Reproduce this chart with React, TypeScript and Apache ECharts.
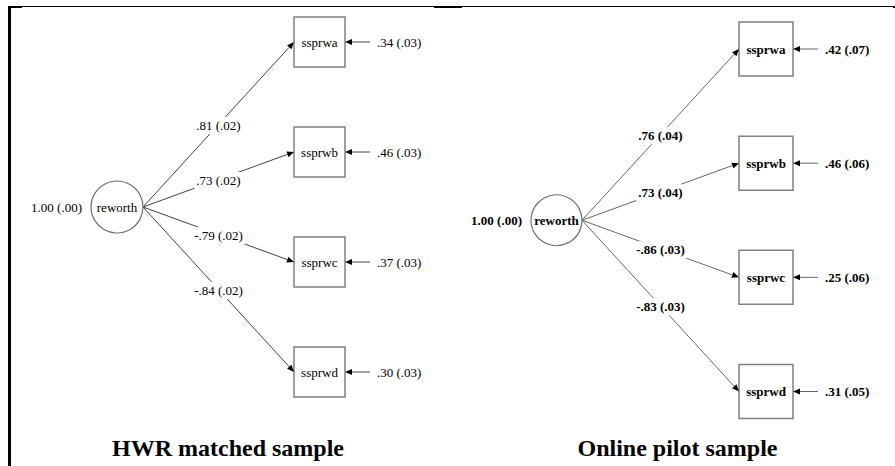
import React, { useEffect, useRef } from 'react';
import * as echarts from 'echarts';

// ---------- data ----------
const indicators = ['ssprwa', 'ssprwb', 'ssprwc', 'ssprwd'];
const latentName = 'reworth';
const panelTitles = ['HWR matched sample', 'Online pilot sample'];
const latentVariance = [1.0, 1.0];
const latentVarianceSE = [0.0, 0.0];
const hwrLoadings = [0.81, 0.73, -0.79, -0.84];
const hwrLoadingSE = [0.02, 0.02, 0.02, 0.02];
const hwrResiduals = [0.34, 0.46, 0.37, 0.3];
const hwrResidualSE = [0.03, 0.03, 0.03, 0.03];
const pilotLoadings = [0.76, 0.73, -0.86, -0.83];
const pilotLoadingSE = [0.04, 0.04, 0.03, 0.03];
const pilotResiduals = [0.42, 0.46, 0.25, 0.31];
const pilotResidualSE = [0.07, 0.06, 0.06, 0.05];

const fmt = (v: number) => {
  const s = Math.abs(v).toFixed(2);
  const t = s.startsWith('0') ? s.slice(1) : s;
  return (v < 0 ? '-' : '') + t;
};
const est = (v: number, se: number) => `${fmt(v)} (${fmt(se)})`;

const FONT = '"Liberation Serif", "Times New Roman", serif';

type Panel = {
  grid: any;
  r: number;
  boxW: number;
  boxH: number;
  fontWeight: string;
  lineColor: string;
  loadings: number[];
  loadingSE: number[];
  residuals: number[];
  residualSE: number[];
  variance: number;
  varianceSE: number;
};

const panels: Panel[] = [
  {
    grid: { left: 117, top: 42, width: 202.5, height: 330 },
    r: 26,
    boxW: 51,
    boxH: 50,
    fontWeight: 'normal',
    lineColor: '#444',
    loadings: hwrLoadings,
    loadingSE: hwrLoadingSE,
    residuals: hwrResiduals,
    residualSE: hwrResidualSE,
    variance: latentVariance[0],
    varianceSE: latentVarianceSE[0],
  },
  {
    grid: { left: 556.5, top: 49, width: 209.5, height: 342.5 },
    r: 25.5,
    boxW: 54,
    boxH: 54,
    fontWeight: 'bold',
    lineColor: '#666',
    loadings: pilotLoadings,
    loadingSE: pilotLoadingSE,
    residuals: pilotResiduals,
    residualSE: pilotResidualSE,
    variance: latentVariance[1],
    varianceSE: latentVarianceSE[1],
  },
];

const textEl = (p: Panel, text: string, x: number, y: number, align: string, extra: any = {}) => ({
  type: 'text',
  style: {
    text,
    x,
    y,
    fill: '#000',
    fontSize: 13,
    fontFamily: FONT,
    fontWeight: p.fontWeight,
    align,
    verticalAlign: 'middle',
    textAlign: align,
    textVerticalAlign: 'middle',
    ...extra,
  },
  z2: 20,
});

const arrowHead = (ex: number, ey: number, ux: number, uy: number) => {
  const ah = 7;
  const aw = 3;
  const bx = ex - ux * ah;
  const by = ey - uy * ah;
  return {
    base: [bx, by],
    el: {
      type: 'polygon',
      shape: {
        points: [
          [ex, ey],
          [bx - uy * aw, by + ux * aw],
          [bx + uy * aw, by - ux * aw],
        ],
      },
      style: { fill: '#000' },
      z2: 15,
    },
  };
};

const indicatorRender = (p: Panel) => (params: any, api: any) => {
  const i = params.dataIndex;
  const [bx, by] = api.coord([api.value(0), api.value(1)]);
  const [lx, ly] = api.coord([0, 1.5]);
  const sx = lx + p.r;
  const sy = ly;
  const ex = bx - p.boxW / 2;
  const ey = by;
  const dx = ex - sx;
  const dy = ey - sy;
  const len = Math.hypot(dx, dy);
  const ux = dx / len;
  const uy = dy / len;
  const a1 = arrowHead(ex, ey, ux, uy);
  const rx0 = bx + p.boxW / 2;
  const a2 = arrowHead(rx0, by, -1, 0);
  return {
    type: 'group',
    children: [
      {
        type: 'line',
        shape: { x1: sx, y1: sy, x2: a1.base[0], y2: a1.base[1] },
        style: { stroke: p.lineColor, lineWidth: 1 },
        z2: 5,
      },
      a1.el,
      textEl(p, est(p.loadings[i], p.loadingSE[i]), (sx + ex) / 2, (sy + ey) / 2 + 1, 'center', {
        backgroundColor: '#fff',
        padding: [2, 2],
      }),
      {
        type: 'rect',
        shape: { x: bx - p.boxW / 2, y: by - p.boxH / 2, width: p.boxW, height: p.boxH },
        style: { fill: '#fff', stroke: '#808080', lineWidth: 1.5 },
        z2: 10,
      },
      textEl(p, indicators[i], bx, by, 'center'),
      {
        type: 'line',
        shape: { x1: rx0 + 25, y1: by, x2: a2.base[0], y2: by },
        style: { stroke: p.lineColor, lineWidth: 1 },
        z2: 5,
      },
      a2.el,
      textEl(p, est(p.residuals[i], p.residualSE[i]), rx0 + 32, by, 'left'),
    ],
  };
};

const latentRender = (p: Panel) => (params: any, api: any) => {
  const [cx, cy] = api.coord([api.value(0), api.value(1)]);
  return {
    type: 'group',
    children: [
      {
        type: 'circle',
        shape: { cx, cy, r: p.r },
        style: { fill: '#fff', stroke: '#707070', lineWidth: 1.2 },
        z2: 10,
      },
      textEl(p, latentName, cx, cy, 'center'),
      textEl(p, est(p.variance, p.varianceSE), cx - p.r - 9, cy, 'right'),
    ],
  };
};

export default function App() {
  const ref = useRef<HTMLDivElement>(null);
  useEffect(() => {
    document.body.style.margin = '0';
    if (!ref.current) return;
    const chart = echarts.init(ref.current, undefined, { renderer: 'svg' });
    const option: any = {
      animation: false,
      backgroundColor: '#fff',
      grid: panels.map((p) => p.grid),
      xAxis: panels.map((_, k) => ({ type: 'value', min: 0, max: 1, show: false, gridIndex: k })),
      yAxis: panels.map((_, k) => ({ type: 'value', min: 0, max: 3, inverse: true, show: false, gridIndex: k })),
      graphic: [
        { type: 'rect', shape: { x: 8, y: 6, width: 3, height: 460 }, style: { fill: '#000' } },
        { type: 'rect', shape: { x: 8, y: 6, width: 887, height: 1 }, style: { fill: '#000' } },
        { type: 'rect', shape: { x: 8, y: 6, width: 14, height: 2 }, style: { fill: '#000' } },
        { type: 'rect', shape: { x: 434, y: 6, width: 28, height: 2 }, style: { fill: '#000' } },
        { type: 'rect', shape: { x: 893, y: 6, width: 2, height: 2 }, style: { fill: '#000' } },
        {
          type: 'text',
          x: 228,
          y: 448,
          style: {
            text: panelTitles[0],
            fill: '#000',
            fontSize: 24,
            fontWeight: 'bold',
            fontFamily: FONT,
            textAlign: 'center',
            textVerticalAlign: 'middle',
          },
        },
        {
          type: 'text',
          x: 677.5,
          y: 448,
          style: {
            text: panelTitles[1],
            fill: '#000',
            fontSize: 24,
            fontWeight: 'bold',
            fontFamily: FONT,
            textAlign: 'center',
            textVerticalAlign: 'middle',
          },
        },
      ],
      series: panels.flatMap((p, k) => [
        {
          type: 'custom',
          xAxisIndex: k,
          yAxisIndex: k,
          renderItem: indicatorRender(p),
          data: indicators.map((_, i) => [1, i]),
          clip: false,
          silent: true,
        },
        {
          type: 'custom',
          xAxisIndex: k,
          yAxisIndex: k,
          renderItem: latentRender(p),
          data: [[0, 1.5]],
          clip: false,
          silent: true,
          z: 3,
        },
      ]),
    };
    chart.setOption(option);
    return () => chart.dispose();
  }, []);
  return <div ref={ref} style={{ width: 895, height: 466 }} />;
}
